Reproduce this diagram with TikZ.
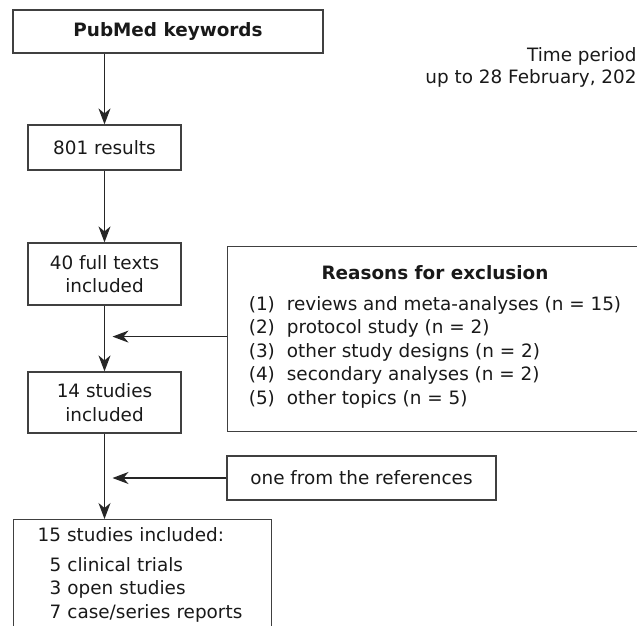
\documentclass[tikz,border=0pt]{standalone}
\usepackage{fontspec}
\setmainfont{DejaVu Sans}
\usetikzlibrary{arrows.meta, positioning, calc}

\begin{document}
\begin{tikzpicture}[x=0.5pt, y=-0.5pt, font=\fontsize{9.2}{11.75}\selectfont,
    box/.style={draw=black!75, line width=0.6pt, text=black!90, align=center, inner sep=0pt, minimum width=76.5pt},
    link/.style={draw=black!85, line width=0.6pt, -{Stealth[length=8pt, width=6pt, inset=2.5pt]}}]
    \useasboundingbox (0,0) rectangle (637,626);
    \clip (0,0) rectangle (637,626);

    % main column
    \node[box, minimum width=155pt, minimum height=21.5pt, font=\fontsize{9.2}{11.75}\selectfont\bfseries] (kw) at (168,31.5) {PubMed keywords};
    \node[box, minimum height=22.5pt] (res) at (104.5,147.5) {801 results};
    \node[box, minimum height=31pt] (full) at (104.5,274) {40 full texts\\included};
    \node[box, minimum height=30.5pt] (stud) at (104.5,402.5) {14 studies\\included};
    \node[box, anchor=north west, text width=105pt, inner xsep=12pt, inner ysep=4pt, align=left] (fin) at (13,519)
        {15 studies included:\\[3pt]\hspace*{6pt}5 clinical trials\\\hspace*{6pt}3 open studies\\\hspace*{6pt}7 case/series reports};

    % side boxes
    \node[text=black!90, align=right, anchor=north east, inner sep=0pt] (when) at (637,47.5) {Time period\\[-0.75pt]up to 28 February, 202};
    \node[box, anchor=north west, minimum width=220pt, minimum height=92.5pt] (excl) at (227,246) {};
    \node[text=black!90, align=center, inner sep=0pt] (why) at (435,338.5) {\textbf{Reasons for exclusion}\\[3.5pt]
        \begin{tabular}[t]{@{}l@{\hspace{6pt}}l@{}}
            (1) & reviews and meta-analyses (n = 15)\\
            (2) & protocol study (n = 2)\\
            (3) & other study designs (n = 2)\\
            (4) & secondary analyses (n = 2)\\
            (5) & other topics (n = 5)
        \end{tabular}};
    \node[box, minimum width=134.5pt, minimum height=22pt] (ref) at (361.5,478) {one from the references};

    % arrows
    \draw[link] (kw.south -| res.north) -- (res.north);
    \draw[link] (res) -- (full);
    \draw[link] (full) -- (stud);
    \draw[link] (stud.south) -- (fin.north -| stud.south);
    \draw[link] ($(excl.west)+(0,-2.5)$) -- ($(excl.west -| full.south)+(8,-2.5)$);
    \draw[link] (ref.west) -- ($(ref.west -| stud.south)+(8,0)$);
\end{tikzpicture}
\end{document}
